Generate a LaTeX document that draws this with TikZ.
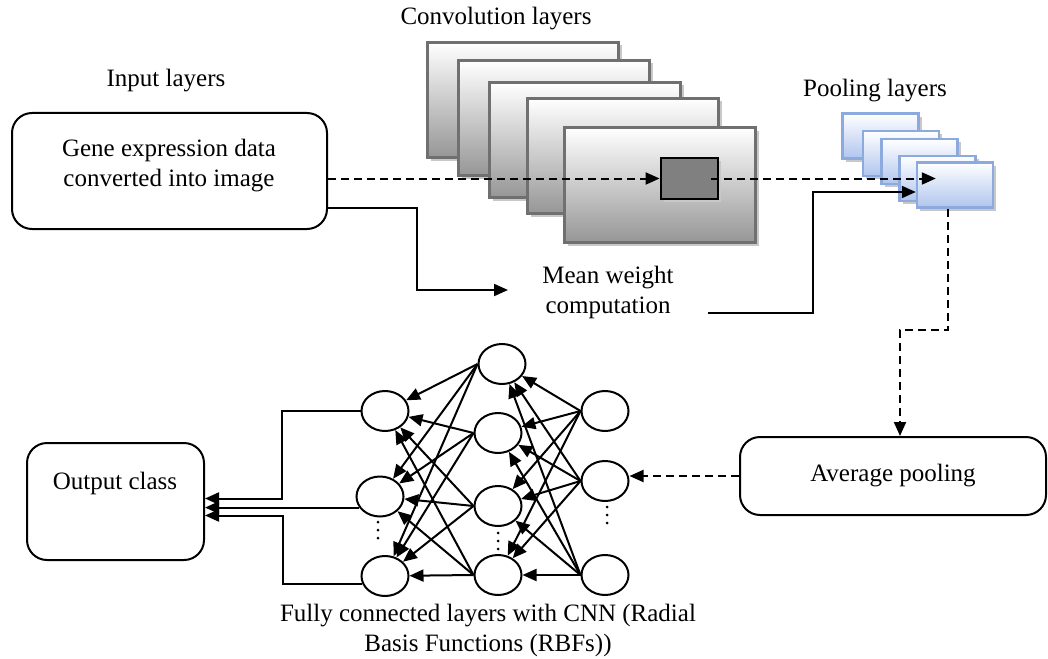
\documentclass[tikz,border=0pt]{standalone}
\usepackage{fontspec}
\setmainfont{Liberation Serif}
\usetikzlibrary{arrows.meta,shadows,shapes.geometric,calc}
\definecolor{convbot}{RGB}{150,150,150}
\definecolor{convmid}{RGB}{224,224,224}
\definecolor{convedge}{RGB}{112,112,112}
\definecolor{poolbot}{RGB}{176,197,238}
\definecolor{poolmid}{RGB}{220,229,248}
\definecolor{pooledge}{RGB}{140,170,222}
\definecolor{shadowgray}{RGB}{200,200,200}
\definecolor{darkfill}{RGB}{128,128,128}
\begin{document}
\begin{tikzpicture}[x=1pt,y=-1pt,
  every node/.style={font=\fontsize{25}{30}\selectfont},
  lbl/.style={inner sep=0pt, align=center},
  conv/.style={rectangle, minimum width=191pt, minimum height=115pt, inner sep=0pt,
    draw=convedge, line width=2.4pt, top color=white, middle color=convmid, bottom color=convbot,
    drop shadow={shadow xshift=3pt, shadow yshift=-3pt, fill=shadowgray, opacity=1}},
  poolbox/.style={rectangle, minimum width=76pt, minimum height=45pt, inner sep=0pt,
    draw=pooledge, line width=2.4pt, top color=white, middle color=poolmid, bottom color=poolbot,
    drop shadow={shadow xshift=3pt, shadow yshift=-3pt, fill=shadowgray, opacity=1}},
  darkbox/.style={rectangle, minimum width=57pt, minimum height=41pt, inner sep=0pt,
    draw=black, line width=2.8pt, fill=darkfill,
    drop shadow={shadow xshift=3pt, shadow yshift=-3pt, fill=shadowgray, opacity=1}},
  box/.style={draw, rounded corners=20pt, line width=2pt, inner sep=0pt},
  neuron/.style={ellipse, draw, line width=2pt, minimum width=47pt, minimum height=40pt, inner sep=0pt},
  arr/.style={line width=2pt, -{Triangle[length=14pt,width=12pt]}},
  dsh/.style={dash pattern=on 8pt off 5pt},
  dotc/.style={circle, fill=black, inner sep=0pt, minimum size=3pt}
]
\useasboundingbox (0,0) rectangle (1048,658);

% labels
\node[lbl] (convlbl) at (496,19) {Convolution layers};
\node[lbl] (inlbl) at (166,81) {Input layers};
\node[lbl] (poollbl) at (875,91) {Pooling layers};

% input box
\node[box, minimum width=315pt, minimum height=116pt] (in) at (169.5,171) {};
\node[lbl] (intext) at (169,166) {Gene expression data\\converted into image};

% convolution layers
\node[conv] (c1) at (523,100) {};
\node[conv] (c2) at (554,118) {};
\node[conv] (c3) at (585,140) {};
\node[conv] (c4) at (623,156) {};
\node[conv] (c5) at (660,185) {};
\node[darkbox] (dark) at (689.5,178.5) {};

% pooling layers
\node[poolbox] (p1) at (880.5,136) {};
\node[poolbox] (p2) at (901,153.5) {};
\node[poolbox] (p3) at (919.5,161.5) {};
\node[poolbox] (p4) at (937.5,178.5) {};
\node[poolbox] (p5) at (955,185) {};

% mean weight
\node[lbl] (mw) at (608,292) {Mean weight\\computation};
\coordinate (mwin) at (508,290);
\coordinate (mwout) at (708,313);

% average pooling
\node[box, minimum width=306pt, minimum height=78pt] (avg) at (893,476) {Average pooling};

% output
\node[box, minimum width=177pt, minimum height=117pt] (out) at (115.5,501.5) {};
\node[lbl] (outtext) at (115,483) {Output class};

% neurons
\node[neuron] (l1) at (385,411) {};
\node[neuron] (l2) at (380,496.5) {};
\node[neuron] (l3) at (385,576) {};
\node[neuron] (m1) at (502,364) {};
\node[neuron] (m2) at (498,433) {};
\node[neuron] (m3) at (498,506) {};
\node[neuron] (m4) at (498,575) {};
\node[neuron] (r1) at (605,411) {};
\node[neuron] (r2) at (605,481) {};
\node[neuron] (r3) at (605,575) {};
\foreach \x/\y [count=\i] in {378/530, 498/541, 607/515}{
  \node[dotc] (dt\i a) at (\x,\y-8) {};
  \node[dotc] (dt\i b) at (\x,\y) {};
  \node[dotc] (dt\i c) at (\x,\y+8) {};
}

\node[lbl] (cap) at (488,630) {Fully connected layers with CNN (Radial\\Basis Functions (RBFs))};

% connectors
\draw[arr, dsh] (in.east |- dark.west) -- (dark.west);
\draw[arr, dsh] ([xshift=-8pt]dark.east) -- ([xshift=20pt]p5.west |- dark.east);
\draw[arr] ([yshift=-37pt]in.east) -| ([xshift=-91pt]mwin) -- (mwin);
\draw[arr] (mwout) -- ++(105,0) |- ([yshift=-7pt]p5.west);
\draw[arr, dsh] ([xshift=-7pt]p5.south) -- ++(0,121) -| ([xshift=7pt]avg.north);
\draw[arr, dsh] (avg.west) -- (avg.west -| r2.east);

\foreach \r in {r1,r2,r3}{
  \foreach \m in {m1,m2,m3,m4}{
    \draw[arr] (\r.west) -- (\m);
  }
}
\foreach \m in {m1,m2,m3,m4}{
  \foreach \l in {l1,l2,l3}{
    \draw[arr] (\m.west) -- (\l);
  }
}

\draw[arr] (l1.west) -- ++(-79,0) |- ([yshift=3pt]out.east);
\draw[arr] (l2.208) -- (l2.208 -| out.east);
\draw[arr] (l3.200) -- ++(-79,0) |- ([yshift=-14pt]out.east);
\end{tikzpicture}
\end{document}
